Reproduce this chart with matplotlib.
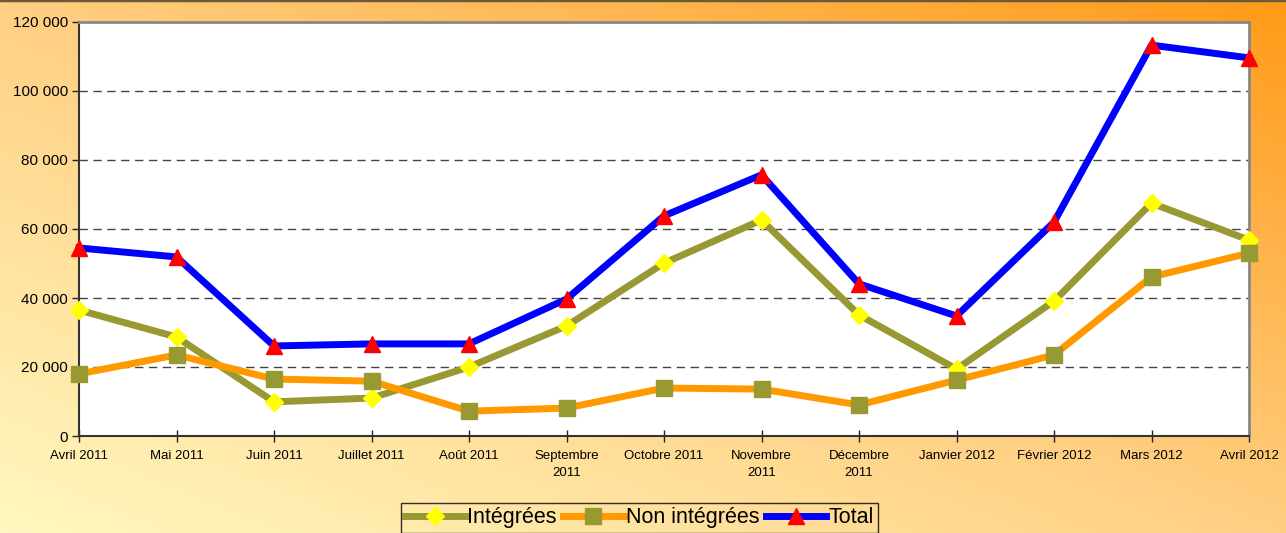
import matplotlib
matplotlib.use("Agg")
import matplotlib.pyplot as plt
import numpy as np
from matplotlib.colors import LinearSegmentedColormap
from matplotlib.ticker import FuncFormatter, MultipleLocator

plt.rcParams['font.family'] = ['Liberation Sans', 'DejaVu Sans']

months = ["Avril 2011", "Mai 2011", "Juin 2011", "Juillet 2011", "Août 2011",
          "Septembre\n2011", "Octobre 2011", "Novembre\n2011", "Décembre\n2011",
          "Janvier 2012", "Février 2012", "Mars 2012", "Avril 2012"]
integrees = [36500, 28700, 9900, 11000, 20000, 31900, 50100, 62600, 35100,
             19400, 39100, 67500, 56800]
non_integrees = [18000, 23500, 16500, 15900, 7200, 8100, 13900, 13600, 9000,
                 16200, 23500, 46100, 53000]
total = [54500, 51900, 26100, 26700, 26700, 39700, 63800, 75700, 44100,
         34800, 62000, 113300, 109600]

fig = plt.figure(figsize=(12.86, 5.33), dpi=100)

# diagonal background gradient, pale yellow (bottom-left) to orange (top-right)
bg = fig.add_axes([0, 0, 1, 1], zorder=-10)
bg_cmap = LinearSegmentedColormap.from_list(
    "bg", [(0.0, "#fff8c0"), (0.5, "#ffcf82"), (1.0, "#ff9a18")])
xx, yy = np.meshgrid(np.linspace(0, 1, 400), np.linspace(0, 1, 200))
bg.imshow((xx + yy) / 2, cmap=bg_cmap, origin='lower', aspect='auto',
          extent=[0, 1, 0, 1], vmin=0, vmax=1)
bg.axhline(1, color='#6b5a3a', lw=2.5)
bg.set_xlim(0, 1)
bg.set_ylim(0, 1)
bg.axis('off')

ax = fig.add_axes([79 / 1286, 97 / 533, 1170 / 1286, 414 / 533])
ax.set_facecolor('white')
x = np.arange(len(months))

ax.plot(x, integrees, color='#999933', lw=5, marker='D', ms=9,
        mfc='#ffff00', mec='#ffff00', label='Intégrées', zorder=3, clip_on=False)
ax.plot(x, non_integrees, color='#ff9900', lw=5, marker='s', ms=11,
        mfc='#999933', mec='#999933', label='Non intégrées', zorder=3, clip_on=False)
ax.plot(x, total, color='#0000ff', lw=5, marker='^', ms=12,
        mfc='#ff0000', mec='#ff0000', label='Total', zorder=4, clip_on=False)

ax.set_xlim(0, len(months) - 1)
ax.set_ylim(0, 120000)
ax.yaxis.set_major_locator(MultipleLocator(20000))
ax.yaxis.set_major_formatter(FuncFormatter(lambda v, p: f"{int(v):,}".replace(",", " ")))
ax.set_xticks(x)
ax.set_xticklabels(months, fontsize=9.5, linespacing=1.55)
ax.tick_params(axis='x', direction='inout', length=8, width=1, color='#222222', pad=6)
ax.tick_params(axis='y', direction='out', length=5, width=1, color='#222222',
               labelsize=11, pad=3)
for g in range(20000, 120000, 20000):
    ax.axhline(g, color='#444444', lw=1, dashes=(6, 4), zorder=1)

for s in ['left', 'bottom']:
    ax.spines[s].set_color('#333333')
    ax.spines[s].set_linewidth(1.5)
for s in ['top', 'right']:
    ax.spines[s].set_color('#888888')
    ax.spines[s].set_linewidth(2)

leg = fig.legend(loc='upper center', bbox_to_anchor=(0.497, 30 / 533), ncol=3,
                 frameon=True, fontsize=15.5, handlelength=2.8, handletextpad=0.1,
                 columnspacing=0.3, borderpad=0.2, borderaxespad=0, fancybox=False)
leg.get_frame().set_edgecolor('black')
leg.get_frame().set_linewidth(1)
leg.get_frame().set_facecolor('none')

fig.savefig("out.png", dpi=100)
